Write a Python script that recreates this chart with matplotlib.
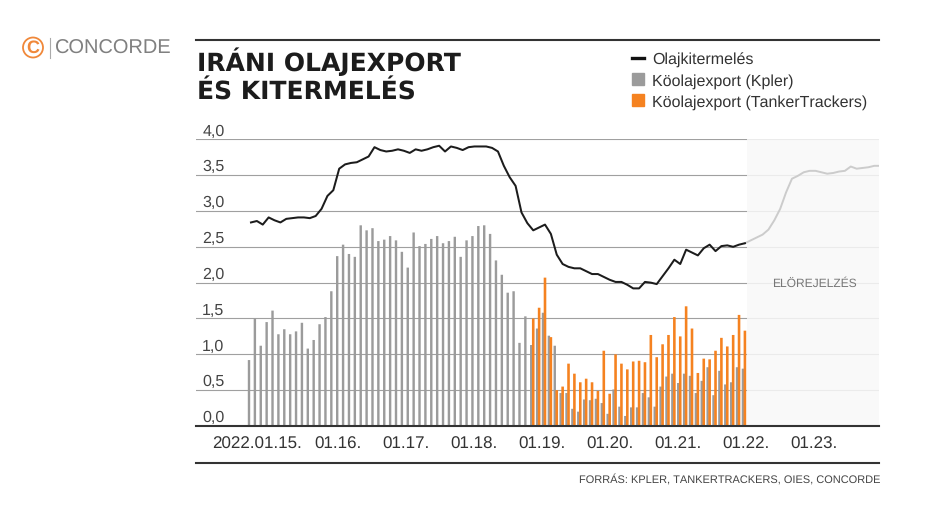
import matplotlib

matplotlib.use("Agg")

import matplotlib.pyplot as plt
from matplotlib.lines import Line2D
from matplotlib.patches import Circle, Patch
from matplotlib.transforms import ScaledTranslation

plt.rcParams["font.family"] = "Liberation Sans"
plt.rcParams["text.hinting"] = "no_hinting"
plt.rcParams["text.hinting_factor"] = 1

W, H = 930, 510

kpler = [
    0.92, 1.50, 1.12, 1.45, 1.61, 1.28, 1.35, 1.28, 1.32, 1.44, 1.08, 1.20,
    1.42, 1.52, 1.88, 2.37, 2.53, 2.40, 2.36, 2.80, 2.73, 2.76, 2.58, 2.60,
    2.65, 2.59, 2.43, 2.21, 2.70, 2.51, 2.54, 2.61, 2.65, 2.55, 2.58, 2.64,
    2.36, 2.59, 2.65, 2.79, 2.80, 2.68, 2.31, 2.11, 1.86, 1.88, 1.16, 1.53,
    1.13, 1.36, 1.58, 1.26, 1.12, 0.46, 0.46, 0.24, 0.20, 0.37, 0.36, 0.38,
    0.32, 0.17, 0.51, 0.27, 0.14, 0.26, 0.26, 0.46, 0.40, 0.27, 0.55, 0.69,
    0.73, 0.60, 0.73, 0.70, 0.46, 0.63, 0.82, 0.43, 0.77, 0.58, 0.61, 0.82,
    0.80,
]
tanker = [
    1.50, 1.65, 2.07, 1.24, 0.50, 0.55, 0.87, 0.73, 0.61, 0.66, 0.61, 0.49,
    1.05, 0.45, 1.00, 0.87, 0.79, 0.90, 0.91, 0.89, 1.27, 0.96, 1.14, 1.27,
    1.52, 1.25, 1.67, 1.36, 0.74, 0.94, 0.93, 1.05, 1.23, 1.11, 1.27, 1.55,
    1.33,
]
production = [
    2.84, 2.86, 2.81, 2.91, 2.87, 2.84, 2.89, 2.90, 2.91, 2.91, 2.90, 2.93,
    3.03, 3.21, 3.29, 3.59, 3.65, 3.67, 3.68, 3.72, 3.76, 3.89, 3.85, 3.83,
    3.84, 3.86, 3.84, 3.81, 3.86, 3.84, 3.86, 3.89, 3.91, 3.83, 3.90, 3.88,
    3.85, 3.89, 3.90, 3.90, 3.90, 3.88, 3.83, 3.63, 3.47, 3.35, 2.98, 2.83,
    2.73, 2.77, 2.81, 2.68, 2.39, 2.26, 2.22, 2.20, 2.20, 2.16, 2.12, 2.12,
    2.08, 2.04, 2.01, 2.01, 1.97, 1.92, 1.92, 2.01, 2.00, 1.98, 2.09, 2.20,
    2.32, 2.26, 2.46, 2.42, 2.38, 2.48, 2.53, 2.44, 2.51, 2.52, 2.50, 2.53,
    2.55,
]
forecast = [
    2.55, 2.59, 2.63, 2.67, 2.74, 2.87, 3.03, 3.26, 3.45, 3.49, 3.54, 3.56,
    3.56, 3.54, 3.52, 3.53, 3.55, 3.56, 3.62, 3.59, 3.60, 3.61, 3.63, 3.63,
]
y_ticks = [0.0, 0.5, 1.0, 1.5, 2.0, 2.5, 3.0, 3.5, 4.0]
x_labels = ["2022.01.15.", "01.16.", "01.17.", "01.18.", "01.19.", "01.20.", "01.21.", "01.22.", "01.23."]

# pixel scale of the month axis: first line point at x=251, 5.88 px per month
PX0, PX_STEP = 251, 5.88


def to_x(px):
    return (px - PX0) / PX_STEP


def fx(px):
    return px / W


def fy(px):
    return (H - px) / H


fig = plt.figure(figsize=(W / 100, H / 100), dpi=100)
ax = fig.add_axes([196 / W, (H - 427) / H, (879 - 196) / W, (427 - 140.3) / H])

for v in y_ticks[1:]:
    ax.axhline(v, color="#a0a0a0", lw=0.8, zorder=1)
ax.axvspan(to_x(747), to_x(879), color="#f8f8f8", alpha=0.86, lw=0, zorder=2)

x_kpler = [i - 2 / PX_STEP for i in range(len(kpler))]
x_tanker = [len(kpler) - len(tanker) + i for i in range(len(tanker))]
for bars in (
    ax.bar(x_kpler, kpler, width=2.4 / PX_STEP, color="#9b9b9b", zorder=3),
    ax.bar(x_tanker, tanker, width=2.6 / PX_STEP, color="#f58220", zorder=4),
):
    for bar in bars:
        bar.set_snap(False)

ax.plot(range(len(production) - 1, len(production) - 1 + len(forecast)), forecast,
        color="#cccccc", lw=1.4, zorder=5)
ax.plot(range(len(production)), production, color="#1c1c1c", lw=1.45, zorder=6)

ax.set_xlim(to_x(196), to_x(879))
ax.set_ylim(0, 4)
for side in ("top", "left", "right"):
    ax.spines[side].set_visible(False)
ax.spines["bottom"].set_linewidth(1.5)
ax.spines["bottom"].set_color("#333333")
ax.spines["bottom"].set_zorder(8)

# first label is wider and sits off the regular monthly grid
tick_px = [257.5] + [337.5 + 68 * i for i in range(len(x_labels) - 1)]
ax.set_xticks([to_x(p) for p in tick_px])
ax.set_xticklabels(x_labels, fontsize=11.9, color="#333333")
ax.tick_params(axis="x", length=0, pad=6.5)

ax.set_yticks(y_ticks)
ax.set_yticklabels([f"{v:.1f}".replace(".", ",") for v in y_ticks], fontsize=11.4, color="#444444")
ax.tick_params(axis="y", length=0, pad=-4.5)
for label in ax.get_yticklabels():
    label.set_ha("left")
    label.set_va("bottom")
    label.set_transform(label.get_transform() + ScaledTranslation(0, 1 / 72, fig.dpi_scale_trans))

ax.text(to_x(814), 2.0, "ELÖREJELZÉS", fontsize=8.4, color="#777777", ha="center", va="center", zorder=7)

# rules above the title and under the month labels
for y_px in (41, 464):
    fig.add_artist(Line2D([fx(196), fx(879)], [fy(y_px), fy(y_px)], color="#333333", lw=1.5))

fig.text(fx(197), fy(99), "IRÁNI OLAJEXPORT\nÉS KITERMELÉS", family="DejaVu Sans", fontweight="bold",
         fontsize=17.9, color="#1c1c1c", va="baseline", linespacing=1.2)

handles = [
    Line2D([], [], color="#111111", lw=2.4),
    Patch(color="#9b9b9b"),
    Patch(color="#f58220"),
]
labels = ["Olajkitermelés", "Köolajexport (Kpler)", "Köolajexport (TankerTrackers)"]
fig.legend(handles, labels, loc="upper left", bbox_to_anchor=(fx(632), fy(53)), frameon=False,
           fontsize=11.8, labelcolor="#333333", handlelength=0.76, handleheight=0.76,
           handletextpad=0.48, labelspacing=0.36, borderpad=0, borderaxespad=0)

fig.text(fx(880), fy(479), "FORRÁS: KPLER, TANKERTRACKERS, OIES, CONCORDE", fontsize=7.9, color="#444444",
         ha="right", va="center")

# logo
fig.add_artist(Circle((33, H - 48.5), 10, transform=None, fill=False, ec="#f0883a", lw=1.3))
fig.text(fx(33), fy(48.5), "C", fontsize=13, fontweight="bold", color="#f0883a", ha="center", va="center")
fig.add_artist(Line2D([fx(50), fx(50)], [fy(39), fy(59)], color="#aaaaaa", lw=0.8))
fig.text(fx(55), fy(49), "CONCORDE", fontsize=14.1, color="#808080", ha="left", va="center")

fig.savefig("out.png", dpi=100)
plt.close(fig)
